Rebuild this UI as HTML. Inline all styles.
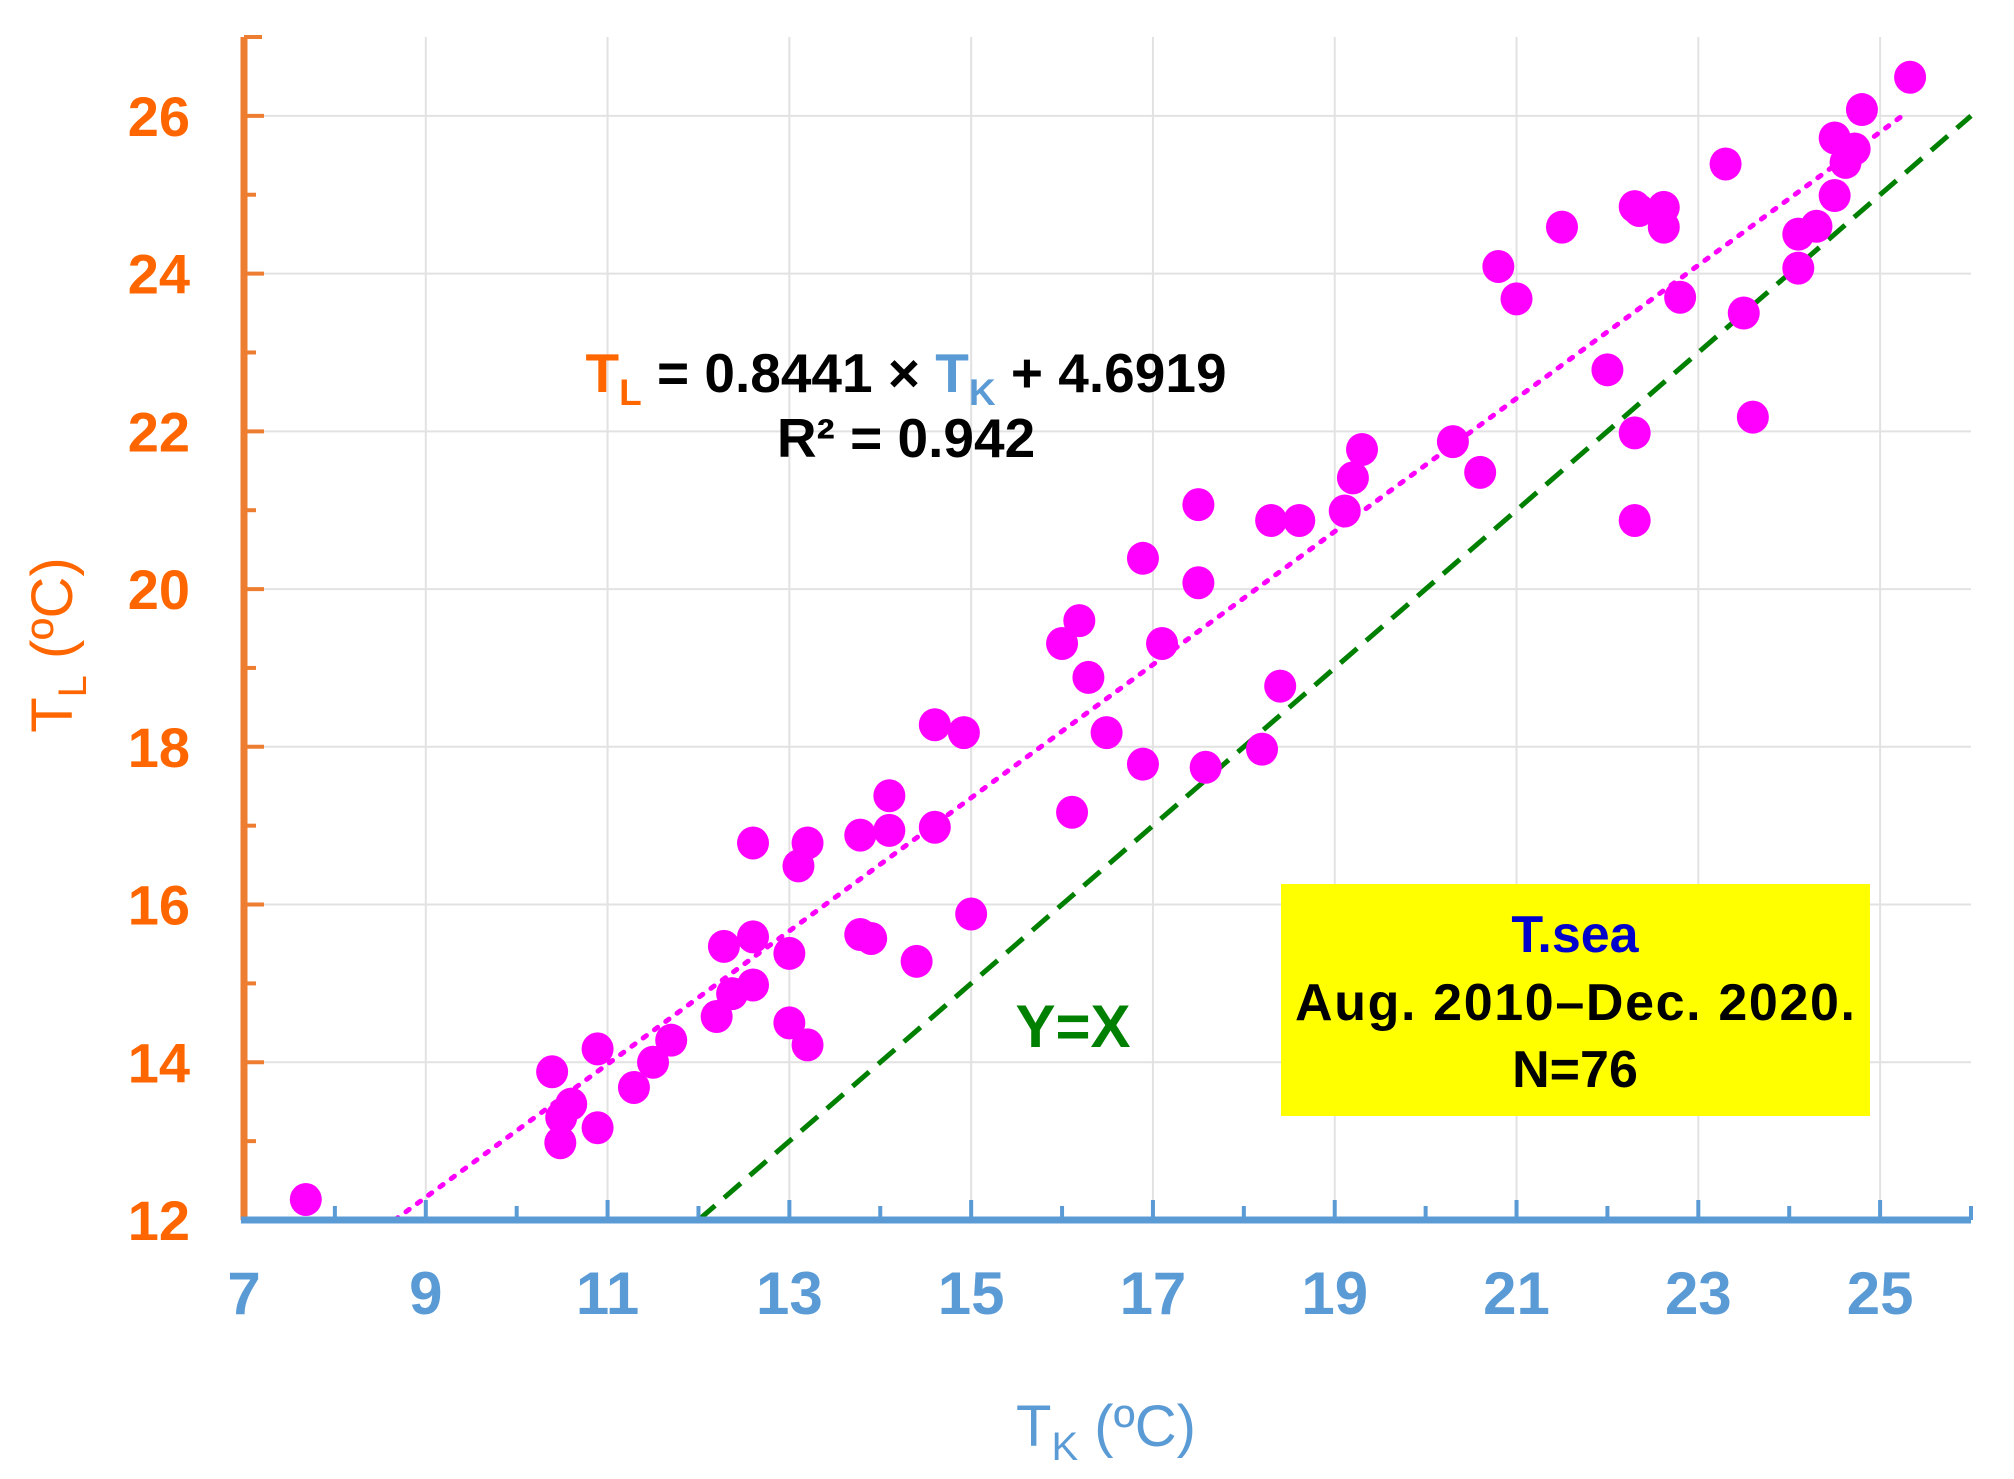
<!DOCTYPE html>
<html><head><meta charset="utf-8"><style>
body{margin:0;background:#fff;}
svg{display:block;font-family:"Liberation Sans",Arial,sans-serif;font-weight:bold;}
</style></head><body>
<svg id="chart" width="2014" height="1479" viewBox="0 0 2014 1479" xmlns="http://www.w3.org/2000/svg">
<g id="grid"></g>
<g id="lines"></g>
<g id="pts"></g>
<g id="axes"></g>
<text x="906" y="392" text-anchor="middle" font-size="55" fill="#000"><tspan fill="#ff6600">T<tspan font-size="37" dy="13">L</tspan></tspan><tspan dy="-13"> = 0.8441 × </tspan><tspan fill="#5b9bd5">T<tspan font-size="37" dy="13">K</tspan></tspan><tspan dy="-13"> + 4.6919</tspan></text>
<text x="906" y="457" text-anchor="middle" font-size="55" fill="#000">R² = 0.942</text>
<text x="1073" y="1047" text-anchor="middle" font-size="60" fill="#008000">Y=X</text>
<g>
<rect x="1281" y="884" width="589" height="232" fill="#ffff00"/>
<text x="1575" y="952" text-anchor="middle" font-size="52" fill="#0000cc">T.sea</text>
<text x="1575" y="1020" text-anchor="middle" font-size="52" fill="#000" textLength="560">Aug. 2010–Dec. 2020.</text>
<text x="1575" y="1087" text-anchor="middle" font-size="52" fill="#000">N=76</text>
</g>
<text x="1106" y="1446" text-anchor="middle" font-size="58" font-weight="normal" fill="#5b9bd5">T<tspan font-size="40" dy="14">K</tspan><tspan dy="-14"> (ºC)</tspan></text>
<text transform="translate(72,645) rotate(-90)" text-anchor="middle" font-size="58" font-weight="normal" fill="#ff6600">T<tspan font-size="40" dy="14">L</tspan><tspan dy="-14"> (ºC)</tspan></text>
</svg>
<script>
const xs=[7.68,10.39,10.48,10.49,10.6,10.89,10.89,11.29,11.5,11.7,12.2,12.28,12.37,12.6,12.6,12.6,13.0,13.0,13.1,13.2,13.2,13.78,13.78,13.9,14.1,14.1,14.4,14.6,14.6,14.92,15.0,16.0,16.11,16.19,16.29,16.49,16.89,16.89,17.1,17.5,17.5,17.58,18.2,18.3,18.4,18.61,19.11,19.2,19.3,20.3,20.6,20.8,21.0,21.5,22.0,22.3,22.3,22.3,22.35,22.62,22.62,22.8,23.3,23.5,23.6,24.1,24.1,24.3,24.5,24.5,24.62,24.72,24.8,25.33];
const ys=[12.26,13.88,12.98,13.3,13.47,14.17,13.17,13.68,14.0,14.28,14.58,15.47,14.87,14.98,15.59,16.78,15.38,14.5,16.49,16.78,14.22,16.88,15.62,15.57,17.38,16.94,15.28,16.98,18.28,18.18,15.88,19.31,17.17,19.6,18.88,18.18,20.39,17.78,19.31,21.07,20.08,17.74,17.97,20.87,18.77,20.87,20.99,21.41,21.77,21.87,21.48,24.09,23.68,24.59,22.78,21.98,20.87,24.85,24.8,24.84,24.59,23.7,25.39,23.5,22.18,24.07,24.5,24.6,24.99,25.72,25.41,25.58,26.08,26.49];
const xTicks=[7,9,11,13,15,17,19,21,23,25];
const yTicks=[12,14,16,18,20,22,24,26];
const slope=0.8441, intercept=4.6919;
const X0=244,X1=1971,Y0=1220,Ymin=12,Ymax=27,Xmin=7,Xmax=26;
const sx=v=>X0+(v-Xmin)*(X1-X0)/(Xmax-Xmin);
const sy=v=>Y0-(v-Ymin)*(Y0-37)/(Ymax-Ymin);
const NS="http://www.w3.org/2000/svg";
function mk(p,t,a){const e=document.createElementNS(NS,t);for(const k in a)e.setAttribute(k,a[k]);p.appendChild(e);return e;}
const grid=document.getElementById('grid'),axes=document.getElementById('axes'),lines=document.getElementById('lines'),pts=document.getElementById('pts');
xTicks.forEach(v=>{if(v>Xmin){const l=mk(grid,'line',{x1:sx(v),x2:sx(v),y1:sy(Ymax),y2:Y0,stroke:'#e2e2e2','stroke-width':2});

}});
yTicks.forEach(v=>{if(v>Ymin){const l=mk(grid,'line',{x1:X0,x2:X1,y1:sy(v),y2:sy(v),stroke:'#e2e2e2','stroke-width':2});

}});
const xa=Math.max(Xmin,(Ymin-intercept)/slope), xb=25.3;
const reg=mk(lines,'line',{x1:sx(xa),y1:sy(slope*xa+intercept),x2:sx(xb),y2:sy(slope*xb+intercept),stroke:'#ff00ff','stroke-width':5,'stroke-dasharray':'4 10','stroke-linecap':'round'});


const idl=mk(lines,'line',{x1:sx(12),y1:sy(12),x2:sx(26),y2:sy(26),stroke:'#008000','stroke-width':5,'stroke-dasharray':'22 12'});


xs.forEach((x,i)=>{const c=mk(pts,'ellipse',{cx:sx(x),cy:sy(ys[i]),rx:16,ry:16.5,fill:'#ff00ff'});

});
mk(axes,'line',{x1:X0,x2:X0,y1:sy(Ymax),y2:Y0,stroke:'#ed7d31','stroke-width':7});
mk(axes,'line',{x1:X0,x2:X0+18,y1:sy(Ymax),y2:sy(Ymax),stroke:'#ed7d31','stroke-width':4});
for(let v=13;v<=26;v++){mk(axes,'line',{x1:X0,x2:X0+(v%2==0?20:12),y1:sy(v),y2:sy(v),stroke:'#ed7d31','stroke-width':4});}
yTicks.forEach(v=>{const t=mk(axes,'text',{x:190,y:sy(v)+20,'text-anchor':'end','font-size':56,fill:'#ff6600'});t.textContent=v;

});
mk(axes,'line',{x1:X0-3,x2:X1,y1:Y0,y2:Y0,stroke:'#5b9bd5','stroke-width':7});
for(let v=8;v<=26;v++){mk(axes,'line',{x1:sx(v),x2:sx(v),y1:Y0,y2:Y0-(v%2==1?20:14),stroke:'#5b9bd5','stroke-width':4});}
xTicks.forEach(v=>{const t=mk(axes,'text',{x:sx(v),y:1314,'text-anchor':'middle','font-size':60,fill:'#5b9bd5'});t.textContent=v;

});
</script>
</body></html>
